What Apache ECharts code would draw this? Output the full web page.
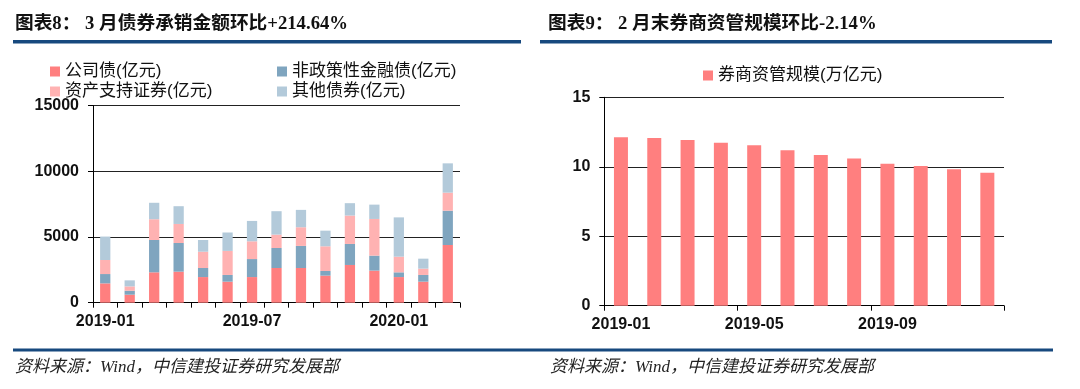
<!DOCTYPE html>
<html><head><meta charset="utf-8">
<script src="https://cdn.jsdelivr.net/npm/echarts@6/dist/echarts.min.js"></script>
<style>html,body{margin:0;padding:0;background:#fff}#c{width:1080px;height:389px}</style>
</head><body><div id="c"></div>
<script>
// ---- data ----
const monthsL = ['2019-01','2019-02','2019-03','2019-04','2019-05','2019-06','2019-07','2019-08','2019-09','2019-10','2019-11','2019-12','2020-01','2020-02','2020-03'];
const corpBond   = [1470, 610, 2310, 2360, 1950, 1600, 1950, 2640, 2640, 2060, 2870, 2440, 1950, 1600, 4390];
const nonPolicy  = [ 710, 300, 2460, 2180,  690,  510, 1370, 1520, 1680,  350, 1600, 1140,  360,  510, 2610];
const absBond    = [1070, 330, 1580, 1450, 1240, 1830, 1350, 1020, 1420, 1880, 2160, 2790, 1190,  480, 1370];
const otherBond  = [1780, 460, 1250, 1350,  890, 1400, 1550, 1780, 1320, 1190,  940, 1090, 2990,  760, 2230];
const monthsR = ['2019-01','2019-02','2019-03','2019-04','2019-05','2019-06','2019-07','2019-08','2019-09','2019-10','2019-11','2019-12'];
const amScale = [12.12, 12.07, 11.92, 11.73, 11.54, 11.18, 10.84, 10.60, 10.22, 10.05, 9.83, 9.57];
const namesL = ['公司债(亿元)','非政策性金融债(亿元)','资产支持证券(亿元)','其他债券(亿元)'];
const nameR = '券商资管规模(万亿元)';
const titleL = '图表8： 3 月债券承销金额环比+214.64%';
const titleR = '图表9： 2 月末券商资管规模环比-2.14%';
const source = '资料来源：Wind，中信建投证券研究发展部';

const colors = ['#FF7F7F','#7FA5BF','#FFB2B2','#B3CADA'];
const sans = "'Liberation Sans', Arial, 'Noto Sans CJK SC'";
const axisLbl = {color:'#111', fontSize:16, fontWeight:'bold', fontFamily:sans};
const ruleColor = '#17497E';

const chart = echarts.init(document.getElementById('c'), null, {renderer:'canvas'});

function yAxisCfg(gi, max, interval){
  return {type:'value', gridIndex:gi, min:0, max:max, interval:interval,
    axisLine:{show:true, lineStyle:{color:'#000', width:1}},
    axisTick:{show:true, inside:false, length:5, lineStyle:{color:'#000'}},
    axisLabel:Object.assign({margin:14, formatter:function(v){return String(v);}}, axisLbl),
    splitLine:{show:true, lineStyle:{color:'#222', width:1}}};
}

chart.setOption({
  animation:false,
  textStyle:{fontFamily:sans},
  grid:[
    {left:93, right:620, top:105.5, bottom:86.3, containLabel:false},
    {left:604.3, right:76, top:97.3, bottom:83.3, containLabel:false}
  ],
  legend:[
    {data:[namesL[0], namesL[2]], orient:'vertical', left:45, top:58, itemWidth:10, itemHeight:10, itemGap:3,
     icon:'rect', textStyle:{color:'#111', fontSize:17, fontFamily:sans}},
    {data:[namesL[1], namesL[3]], orient:'vertical', left:272, top:58, itemWidth:10, itemHeight:10, itemGap:3,
     icon:'rect', textStyle:{color:'#111', fontSize:17, fontFamily:sans}},
    {data:[nameR], left:698, top:62, itemWidth:10, itemHeight:10, icon:'rect',
     textStyle:{color:'#111', fontSize:17, fontFamily:sans}}
  ],
  xAxis:[
    {type:'category', gridIndex:0, data:monthsL, boundaryGap:true,
     axisLine:{lineStyle:{color:'#000', width:1}},
     axisTick:{show:true, interval:0, length:5, lineStyle:{color:'#000'}},
     axisLabel:Object.assign({interval:5, margin:11}, axisLbl)},
    {type:'category', gridIndex:1, data:monthsR, boundaryGap:true,
     axisLine:{lineStyle:{color:'#000', width:1}},
     axisTick:{show:true, interval:3, length:5, lineStyle:{color:'#000'}},
     axisLabel:Object.assign({interval:3, margin:11}, axisLbl)}
  ],
  yAxis:[ yAxisCfg(0, 15000, 5000), yAxisCfg(1, 15, 5) ],
  series:[
    {name:namesL[0], type:'bar', stack:'L', xAxisIndex:0, yAxisIndex:0, data:corpBond, barWidth:'42%', itemStyle:{color:colors[0]}},
    {name:namesL[1], type:'bar', stack:'L', xAxisIndex:0, yAxisIndex:0, data:nonPolicy, barWidth:'42%', itemStyle:{color:colors[1]}},
    {name:namesL[2], type:'bar', stack:'L', xAxisIndex:0, yAxisIndex:0, data:absBond, barWidth:'42%', itemStyle:{color:colors[2]}},
    {name:namesL[3], type:'bar', stack:'L', xAxisIndex:0, yAxisIndex:0, data:otherBond, barWidth:'42%', itemStyle:{color:colors[3]}},
    {name:nameR, type:'bar', xAxisIndex:1, yAxisIndex:1, data:amScale, barWidth:'42%', itemStyle:{color:'#FF7F7F'}}
  ],
  graphic:[
    {type:'text', left:15, top:15, style:{text:titleL, fill:'#111', font:"bold 18.7px 'Liberation Serif', 'Noto Sans CJK SC'"}},
    {type:'text', left:548, top:15, style:{text:titleR, fill:'#111', font:"bold 18.7px 'Liberation Serif', 'Noto Sans CJK SC'"}},
    {type:'rect', shape:{x:13, y:40, width:508, height:3.5}, style:{fill:ruleColor}},
    {type:'rect', shape:{x:540, y:40, width:512, height:3.5}, style:{fill:ruleColor}},
    {type:'rect', shape:{x:13, y:348.5, width:1040, height:3}, style:{fill:ruleColor}},
    {type:'text', left:15, top:359, style:{text:source, fill:'#222', font:"italic 17px 'Liberation Serif', 'Noto Sans CJK SC'"}},
    {type:'text', left:550, top:359, style:{text:source, fill:'#222', font:"italic 17px 'Liberation Serif', 'Noto Sans CJK SC'"}}
  ]
});
</script>
</body></html>
